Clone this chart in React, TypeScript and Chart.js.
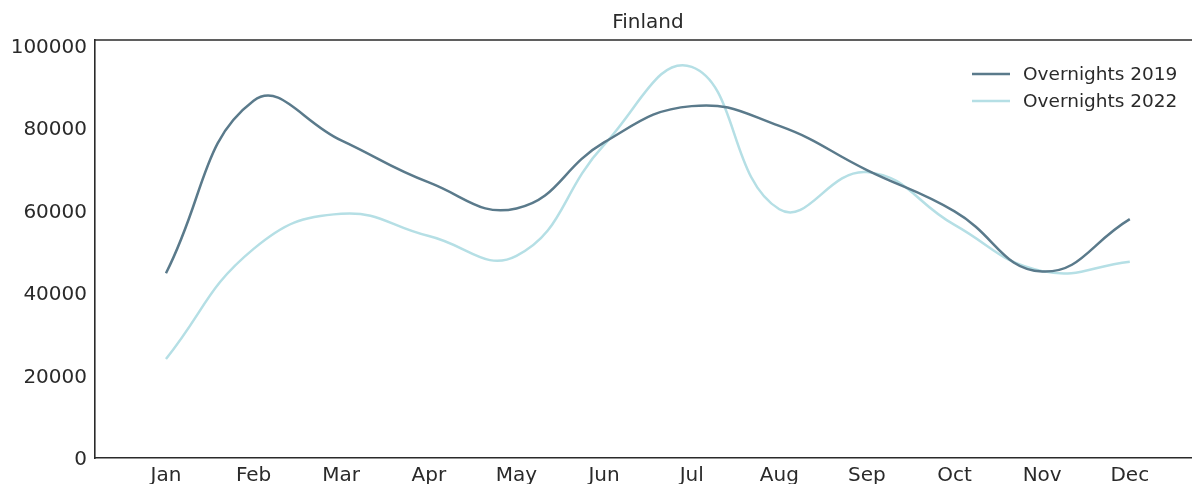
import React, { useEffect, useRef } from "react";
import { Chart, registerables } from "chart.js";

Chart.register(...registerables);

const months = ["Jan", "Feb", "Mar", "Apr", "May", "Jun", "Jul", "Aug", "Sep", "Oct", "Nov", "Dec"];
const overnights2019 = [44800, 86600, 77000, 66800, 60500, 76500, 85300, 80500, 69800, 59800, 45200, 57900];
const overnights2022 = [24000, 50700, 59200, 53800, 49000, 75900, 94800, 60300, 69300, 56500, 45300, 47600];
const yTicks = [0, 20000, 40000, 60000, 80000, 100000];

const FONT = "'DejaVu Sans', sans-serif";
const TEXT = "#2a2a2a";
const C2019 = "#5a7a8b";
const C2022 = "#b5dfe5";

const overlay = {
  id: "overlay",
  afterDraw(chart: any) {
    const { ctx, chartArea } = chart;
    ctx.save();
    // top spine
    ctx.strokeStyle = TEXT;
    ctx.lineWidth = 1.6;
    ctx.beginPath();
    ctx.moveTo(chartArea.left, chartArea.top);
    ctx.lineTo(chartArea.right, chartArea.top);
    ctx.stroke();
    // title
    ctx.fillStyle = TEXT;
    ctx.font = `20px ${FONT}`;
    ctx.textAlign = "center";
    ctx.textBaseline = "middle";
    ctx.fillText("Finland", 648, 23);
    // legend
    ctx.font = `18.5px ${FONT}`;
    ctx.textAlign = "left";
    chart.data.datasets.forEach((ds: any, i: number) => {
      const y = 74 + i * 27;
      ctx.strokeStyle = ds.borderColor;
      ctx.lineWidth = 2.5;
      ctx.beginPath();
      ctx.moveTo(972, y);
      ctx.lineTo(1010, y);
      ctx.stroke();
      ctx.fillStyle = TEXT;
      ctx.fillText(ds.label, 1023, y + 1);
    });
    ctx.restore();
  },
};

export default function App() {
  const ref = useRef<HTMLCanvasElement>(null);
  useEffect(() => {
    document.body.style.margin = "0";
    const chart = new Chart(ref.current!, {
      type: "line",
      data: {
        datasets: [
          {
            label: "Overnights 2019",
            data: overnights2019.map((v, i) => ({ x: i, y: v })),
            borderColor: C2019,
            borderWidth: 2.5,
            pointRadius: 0,
            tension: 0.45,
            fill: false,
          },
          {
            label: "Overnights 2022",
            data: overnights2022.map((v, i) => ({ x: i, y: v })),
            borderColor: C2022,
            borderWidth: 2.5,
            pointRadius: 0,
            tension: 0.45,
            fill: false,
          },
        ],
      },
      plugins: [overlay],
      options: {
        animation: false,
        responsive: false,
        devicePixelRatio: 1,
        layout: { padding: { top: 40, left: 0, right: 0, bottom: 0 } },
        plugins: {
          legend: { display: false },
          title: { display: false },
          tooltip: { enabled: false },
        },
        scales: {
          x: {
            type: "linear",
            min: -0.81,
            max: 11.71,
            grid: { display: false, drawTicks: false },
            border: { display: true, color: TEXT, width: 1.6 },
            afterBuildTicks: (scale: any) => {
              scale.ticks = months.map((_, i) => ({ value: i }));
            },
            afterFit: (scale: any) => {
              scale.height = 26;
            },
            ticks: {
              autoSkip: false,
              maxRotation: 0,
              padding: 6,
              color: TEXT,
              font: { family: FONT, size: 20 },
              callback: (v: any) => months[Math.round(Number(v))] ?? "",
            },
          },
          y: {
            type: "linear",
            min: 0,
            max: 101330,
            grid: { display: false, drawTicks: false },
            border: { display: true, color: TEXT, width: 1.6 },
            afterBuildTicks: (scale: any) => {
              scale.ticks = yTicks.map((v) => ({ value: v }));
            },
            afterFit: (scale: any) => {
              scale.width = 95;
            },
            ticks: {
              padding: 8,
              labelOffset: 2,
              color: TEXT,
              font: { family: FONT, size: 20 },
              callback: (v: any) => String(v),
            },
          },
        },
      },
    });
    return () => chart.destroy();
  }, []);
  return (
    <div style={{ position: "absolute", left: 0, top: 0, width: 1192, height: 484 }}>
      <canvas ref={ref} width={1192} height={484} />
    </div>
  );
}
